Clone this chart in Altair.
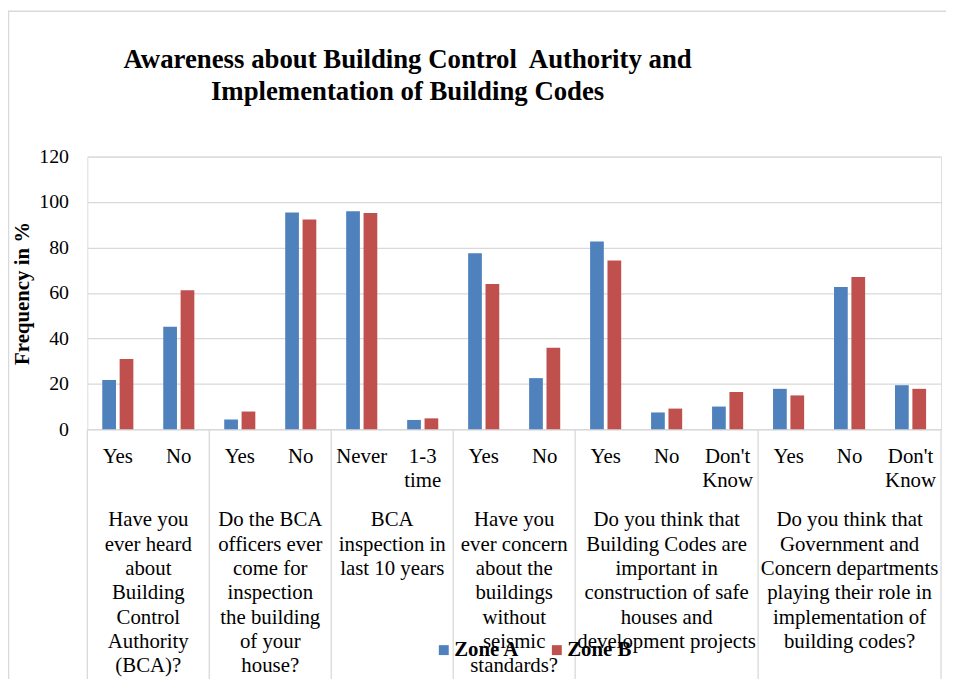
import altair as alt
import pandas as pd

# ---- data -----------------------------------------------------------
group_labels = [
    "Have you\never heard\nabout\nBuilding\nControl\nAuthority\n(BCA)?",
    "Do the BCA\nofficers ever\ncome for\ninspection\nthe building\nof your\nhouse?",
    "BCA\ninspection in\nlast 10 years",
    "Have you\never concern\nabout the\nbuildings\nwithout\nseismic\nstandards?",
    "Do you think that\nBuilding Codes are\nimportant in\nconstruction of safe\nhouses and\ndevelopment projects",
    "Do you think that\nGovernment and\nConcern departments\nplaying their role in\nimplementation of\nbuilding codes?",
]
group_sizes = [2, 2, 2, 2, 3, 3]
sub_labels = ["Yes", "No", "Yes", "No", "Never", "1-3\ntime", "Yes", "No",
              "Yes", "No", "Don't\nKnow", "Yes", "No", "Don't\nKnow"]
zone_a = [21.7, 45.1, 4.3, 95.4, 95.9, 4.1, 77.5, 22.5, 82.6, 7.4, 10.0, 17.8, 62.6, 19.4]
zone_b = [30.9, 61.2, 7.8, 92.3, 95.2, 4.8, 63.9, 35.9, 74.3, 9.1, 16.4, 14.9, 67.0, 17.8]
zones = ["Zone A", "Zone B"]
colors = ["#4F81BD", "#C0504D"]
title_lines = "Awareness about Building Control\u00a0 Authority and\nImplementation of Building Codes"

FONT = "Liberation Serif"
W, H = 861, 275
n = len(sub_labels)

# ---- tables ---------------------------------------------------------
rows = []
for i in range(n):
    for z, vals, lo, hi in ((zones[0], zone_a, -0.255, -0.03), (zones[1], zone_b, 0.03, 0.255)):
        rows.append({"zone": z, "value": vals[i], "base": 0, "x0": i + 0.5 + lo, "x1": i + 0.5 + hi})
bars_df = pd.DataFrame(rows)

sub_df = pd.DataFrame({"pos": [i + 0.5 for i in range(n)], "label": sub_labels})

starts = [sum(group_sizes[:k]) for k in range(len(group_sizes))]
grp_df = pd.DataFrame({
    "pos": [s + g / 2 for s, g in zip(starts, group_sizes)],
    "label": group_labels,
})
bounds_df = pd.DataFrame({"pos": starts + [n]})
one = pd.DataFrame({"k": [0]})

xscale = alt.Scale(domain=[0, n], nice=False, zero=False, padding=0)
yscale = alt.Scale(domain=[0, 120], nice=False, padding=0)

bars = alt.Chart(bars_df).mark_bar(orient="vertical").encode(
    x=alt.X("x0:Q", scale=xscale, axis=None),
    x2="x1:Q",
    y=alt.Y("value:Q", scale=yscale,
            axis=alt.Axis(values=[0, 20, 40, 60, 80, 100, 120], title="Frequency in %",
                          grid=True, gridColor="#d9d9d9", gridWidth=1.3, domain=False,
                          ticks=False, labelFont=FONT, labelFontSize=20, labelColor="#000",
                          labelPadding=19, titleFont=FONT, titleFontSize=21,
                          titleFontWeight="bold", titleColor="#000", titlePadding=6)),
    y2="base:Q",
    color=alt.Color("zone:N", scale=alt.Scale(domain=zones, range=colors),
                    legend=alt.Legend(orient="none", legendX=349, legendY=487,
                                      direction="horizontal", title=None,
                                      symbolType="square", symbolSize=100,
                                      symbolStrokeWidth=0, labelFont=FONT,
                                      labelFontSize=21, labelFontWeight="bold",
                                      labelColor="#000", labelOffset=0,
                                      columnPadding=27)),
)

seps = alt.Chart(bounds_df).mark_rule(color="#d9d9d9", strokeWidth=1.3).encode(
    x=alt.X("pos:Q", scale=xscale, axis=None),
    y=alt.value(H), y2=alt.value(H + 260),
)

sub_text = alt.Chart(sub_df).mark_text(font=FONT, fontSize=21, color="#000",
                                       baseline="alphabetic", lineBreak="\n",
                                       lineHeight=24.4).encode(
    x=alt.X("pos:Q", scale=xscale, axis=None),
    y=alt.value(H + 34),
    text="label:N",
)

grp_text = alt.Chart(grp_df).mark_text(font=FONT, fontSize=21, color="#000",
                                       baseline="alphabetic", lineBreak="\n",
                                       lineHeight=24.5).encode(
    x=alt.X("pos:Q", scale=xscale, axis=None),
    y=alt.value(H + 98),
    text="label:N",
)

title = alt.Chart(one).mark_text(font=FONT, fontSize=27, fontWeight="bold",
                                 color="#000", baseline="alphabetic",
                                 lineBreak="\n", lineHeight=32).encode(
    x=alt.value(323), y=alt.value(-89), text=alt.value(title_lines),
)

border_left = alt.Chart(one).mark_rule(color="#d9d9d9", strokeWidth=1.5).encode(
    x=alt.value(-79.5), y=alt.value(-147), y2=alt.value(H + 260),
)
border_top = alt.Chart(one).mark_rule(color="#d9d9d9", strokeWidth=1.5).encode(
    x=alt.value(-80), x2=alt.value(W + 10), y=alt.value(-146.5),
)

chart = alt.layer(border_left, border_top, seps, bars, sub_text, grp_text, title).properties(
    width=W, height=H,
    padding={"left": 80, "top": 147, "right": 5, "bottom": 249},
    autosize=alt.AutoSizeParams(type="none"),
).configure_view(stroke=None).configure(background="white")

chart.save("out.html", embed_options={"renderer": "svg", "actions": False})
